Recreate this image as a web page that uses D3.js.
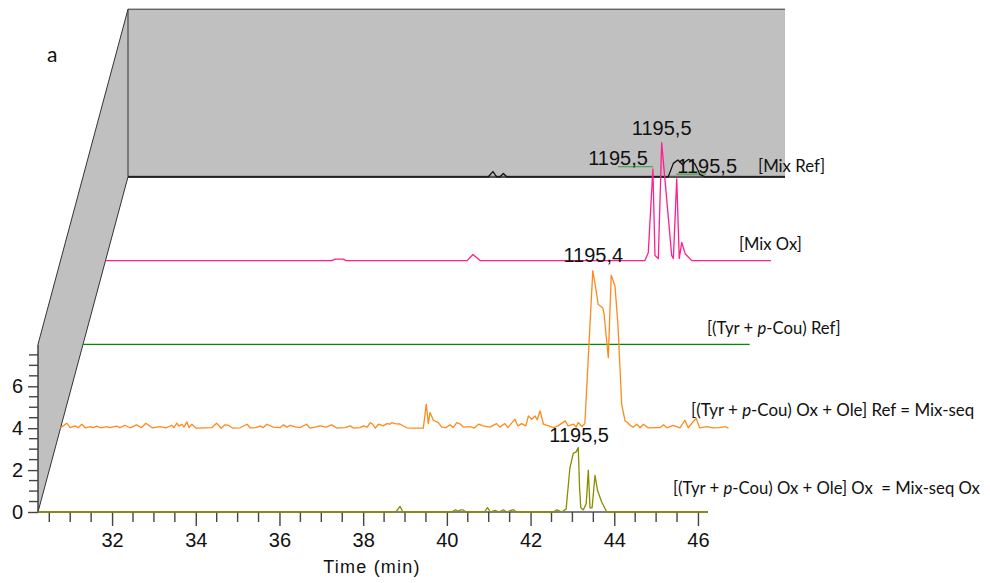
<!DOCTYPE html>
<html><head><meta charset="utf-8">
<script src="https://cdn.jsdelivr.net/npm/d3@7"></script>
<style>body{margin:0;background:#fff}svg{display:block}</style>
</head><body>
<svg id="c" width="990" height="583"></svg>
<script>
// ---------- DATA ----------
const timeDomain = [30.23, 46.24];
const valueDomain = [0, 8];
const xMajorTicks = [32, 34, 36, 38, 40, 42, 44, 46];
const yMajorTicks = [0, 2, 4, 6];
const xTitle = "Time (min)";
const panelLetter = "a";

// series, front (depth 0) to back (depth 4): [time (min), value]
const mixSeqOx = [[30.23,0],[38.78,0],[38.88,0.27],[38.95,0],[40.12,0],[40.2,0.11],[40.27,0.03],[40.33,0.1],[40.39,0.1],[40.46,0],[40.9,0],[40.97,0.21],[41.04,0],[41.15,0.08],[41.25,0],[41.35,0.11],[41.43,0],[41.59,0.11],[41.66,0],[42.55,0],[42.63,0.1],[42.75,0],[42.85,0.15],[42.94,2.1],[43.02,2.8],[43.09,2.87],[43.14,3.08],[43.17,1.2],[43.2,0.2],[43.26,0.1],[43.33,0.4],[43.38,2.0],[43.42,0.2],[43.47,0.2],[43.54,1.75],[43.6,1.03],[43.7,0.48],[43.82,0],[46.24,0]];

const mixSeq = [[30.22,0],[30.38,0.24],[30.46,0.03],[30.58,0.11],[30.65,0.02],[30.74,0.19],[30.82,0.02],[30.94,0.08],[31.01,0.03],[31.1,0.1],[31.18,0.02],[31.34,0.08],[31.41,0.03],[31.57,0.1],[31.65,0.03],[31.77,0.14],[31.89,0.02],[32.05,0.16],[32.16,0.02],[32.27,0.24],[32.42,0.02],[32.61,0.08],[32.75,0.02],[32.89,0.14],[32.94,0.03],[33.01,0.24],[33.06,0.1],[33.13,0.19],[33.18,0.05],[33.25,0.3],[33.3,0.03],[33.37,0.19],[33.47,0],[33.68,0.02],[33.85,0.03],[33.96,0.24],[34.07,0],[34.16,0.16],[34.23,0.15],[34.35,0],[34.52,0.02],[34.69,0.19],[34.76,0.02],[34.9,0.03],[35.0,0.11],[35.07,0.02],[35.16,0.19],[35.31,0.05],[35.48,0.03],[35.56,0.16],[35.64,0.05],[35.72,0.14],[35.84,0.06],[35.95,0.03],[36.11,0.19],[36.19,0],[36.31,0.05],[36.43,0.11],[36.58,0.05],[36.71,0.16],[36.84,0],[37.03,0.03],[37.15,0.11],[37.24,0],[37.39,0.03],[37.47,0.11],[37.56,0.05],[37.63,0.27],[37.69,0.19],[37.75,0],[37.83,0.19],[37.94,0.11],[38.03,0.22],[38.1,0.19],[38.15,0.27],[38.22,0.22],[38.34,0.2],[38.5,0.02],[38.7,0],[38.9,0],[38.97,1.15],[39.02,0.22],[39.06,0.75],[39.14,0.38],[39.26,0.27],[39.34,0.05],[39.44,0.03],[39.54,0.16],[39.61,0.03],[39.7,0.27],[39.78,0.2],[39.86,0.05],[40.02,0.08],[40.11,0],[40.22,0.19],[40.33,0.11],[40.49,0.05],[40.65,0.22],[40.73,0.05],[40.85,0.22],[40.92,0.03],[41.09,0.43],[41.16,0.11],[41.25,0.22],[41.35,0.11],[41.41,0.59],[41.49,0.43],[41.57,0.59],[41.62,0.4],[41.69,0.83],[41.77,0.19],[41.89,0.11],[42.01,0.03],[42.12,0.11],[42.29,0.35],[42.36,0.11],[42.49,0.19],[42.55,0.05],[42.6,0.27],[42.69,0.08],[42.76,0.22],[42.95,7.52],[43.0,6.93],[43.08,5.9],[43.19,5.74],[43.22,5.43],[43.32,3.36],[43.39,7.3],[43.48,6.78],[43.55,4.94],[43.64,1.14],[43.72,0.35],[43.78,0.27],[43.84,0.14],[43.91,0.05],[44.0,0.19],[44.08,0.02],[44.16,0.19],[44.27,0.02],[44.44,0.03],[44.56,0.03],[44.64,0.16],[44.72,0.02],[44.87,0.13],[45.03,0.02],[45.15,0.38],[45.23,0.02],[45.42,0.48],[45.5,0.02],[45.67,0.08],[45.82,0.02],[45.97,0.03],[46.11,0.08],[46.19,0]];

const tyrCouRef = [[30.23,0],[46.16,0]];

const mixOx = [[30.23,0],[35.64,0],[35.72,0.07],[35.91,0.07],[35.98,0],[38.87,0],[39.01,0.29],[39.18,0],[43.12,0],[43.2,0.38],[43.31,4.37],[43.36,0.24],[43.44,0.1],[43.52,5.63],[43.76,0.24],[43.8,0.1],[43.88,3.9],[43.94,0.1],[44.0,0.87],[44.08,0.33],[44.24,0],[46.13,0]];

const mixRef = [[30.23,0],[38.84,0],[38.95,0.25],[39.04,0],[39.12,0],[39.2,0.16],[39.28,0],[43.14,0],[43.26,0.64],[43.37,0.8],[43.49,0.56],[43.54,0.71],[43.62,0.83],[43.7,0.76],[43.78,0.6],[43.9,0.1],[44.02,0],[45.93,0]];

const seriesData = [mixSeqOx, mixSeq, tyrCouRef, mixOx, mixRef];
const seriesColors = ["#8c8c00", "#ff8a1c", "#008a00", "#ff1f8e", "#111111"];
// label parts: [text, italic?]
const seriesLabels = [
  [["[(Tyr + ",0],["p",1],["-Cou) Ox + Ole] Ox  = Mix-seq Ox",0]],
  [["[(Tyr + ",0],["p",1],["-Cou) Ox + Ole] Ref = Mix-seq",0]],
  [["[(Tyr + ",0],["p",1],["-Cou) Ref]",0]],
  [["[Mix Ox]",0]],
  [["[Mix Ref]",0]]
];
// peak annotations: text, depth index, time, value (anchor = text baseline centre)
const peakNotes = [
  ["1195,5", 0, 43.16, 3.34],
  ["1195,4", 1, 42.96, 7.93],
  ["1195,5", 3, 43.52, 6.0],
  ["1195,5", 4, 41.94, 0.56],
  ["1195,5", 4, 44.07, 0.2]
];
// short green marker lines on the back plane: depth, t0, t1, value
const markerLines = [[4, 41.94, 42.78, 0.48],[4, 43.33, 44.04, 0.13]];
const wallEndTime = 45.93;

// ---------- LAYOUT ----------
const svg = d3.select("#c");
const x = d3.scaleLinear().domain(timeDomain).range([38, 708]);
const y = d3.scaleLinear().domain(valueDomain).range([512, 344.4]);
const depthDx = 22.5, depthDv = 4; // per depth step: px right, value units up
const depthDy = y(depthDv) - y(0);
const px = (t, d) => x(t) + d * depthDx;
const py = (v, d) => y(v) + d * depthDy;
const D = 4;
const labelPos = [[673, 494], [691, 416], [707, 334], [739, 250], [758, 172]];
const labelSizes = [16.7, 16.9, 16.7, 16.6, 16.8];

const wallFill = "#c0c0c0", edge = "#333";
const numFont = "Liberation Sans, Arial, sans-serif";
const lblFont = "Lato, 'Open Sans', sans-serif";

// left wall
svg.append("path")
  .attr("d", `M${px(timeDomain[0],0)},${py(8,0)} L${px(timeDomain[0],D)},${py(8,D)} L${px(timeDomain[0],D)},${py(0,D)} L${px(timeDomain[0],0)},${py(0,0)} Z`)
  .attr("fill", wallFill).attr("stroke", "none");
// back wall
svg.append("path")
  .attr("d", `M${px(timeDomain[0],D)},${py(8,D)} L${px(wallEndTime,D)},${py(8,D)} L${px(wallEndTime,D)},${py(0,D)} L${px(timeDomain[0],D)},${py(0,D)} Z`)
  .attr("fill", wallFill).attr("stroke", "none");
const edges = [
  [[timeDomain[0],8,0],[timeDomain[0],8,D]],
  [[timeDomain[0],0,0],[timeDomain[0],0,D]],
  [[timeDomain[0],8,D],[wallEndTime,8,D]],
  [[timeDomain[0],8,D],[timeDomain[0],0,D]]
];
edges.forEach(e => svg.append("line")
  .attr("x1", px(e[0][0], e[0][2])).attr("y1", py(e[0][1], e[0][2]))
  .attr("x2", px(e[1][0], e[1][2])).attr("y2", py(e[1][1], e[1][2]))
  .attr("stroke", edge).attr("stroke-width", 1));
// back wall floor edge
svg.append("line")
  .attr("x1", px(timeDomain[0], D)).attr("y1", py(0, D))
  .attr("x2", px(wallEndTime, D)).attr("y2", py(0, D))
  .attr("stroke", "#555").attr("stroke-width", 2.2);

// y axis
const yAxis = d3.axisLeft(y).tickValues(yMajorTicks).tickSize(10).tickPadding(4).tickFormat(d3.format("d"));
const gy = svg.append("g").attr("transform", `translate(${x(timeDomain[0])},0)`).call(yAxis);
gy.attr("font-size", null).attr("font-family", null);
gy.select(".domain").attr("stroke", edge).attr("stroke-width", 1.4).attr("d", `M0,${y(8)}V${y(0)}`);
gy.selectAll(".tick line").attr("stroke", "#444").attr("stroke-width", 1.4);
gy.selectAll(".tick text").attr("font-family", numFont).attr("font-size", 20).attr("fill", "#111").attr("dx", -1);
const yMinor = d3.range(0.5, 8, 0.5).filter(v => !yMajorTicks.includes(v));
svg.append("g").selectAll("line").data(yMinor).join("line")
  .attr("x1", x(timeDomain[0]) - 9).attr("x2", x(timeDomain[0]))
  .attr("y1", d => y(d)).attr("y2", d => y(d))
  .attr("stroke", "#444").attr("stroke-width", 1.4);

// x axis
const xAxis = d3.axisBottom(x).tickValues(xMajorTicks).tickSize(14).tickPadding(7).tickFormat(d3.format("d"));
const gx = svg.append("g").attr("transform", `translate(0,${y(0)})`).call(xAxis);
gx.attr("font-size", null).attr("font-family", null);
gx.select(".domain").attr("stroke", "#555").attr("stroke-width", 1.4).attr("d", `M${x(timeDomain[0])},0H${x(timeDomain[1])}`);
gx.selectAll(".tick line").attr("stroke", "#444").attr("stroke-width", 1.4);
gx.selectAll(".tick text").attr("font-family", numFont).attr("font-size", 20).attr("fill", "#111");
const xMinor = d3.range(30.5, 46.2, 0.5).filter(t => !xMajorTicks.includes(t));
svg.append("g").selectAll("line").data(xMinor).join("line")
  .attr("x1", d => x(d)).attr("x2", d => x(d))
  .attr("y1", y(0)).attr("y2", y(0) + 10)
  .attr("stroke", "#444").attr("stroke-width", 1.4);

// marker lines
markerLines.forEach(m => svg.append("line")
  .attr("x1", px(m[1], m[0])).attr("x2", px(m[2], m[0]))
  .attr("y1", py(m[3], m[0])).attr("y2", py(m[3], m[0]))
  .attr("stroke", "#3a9a3a").attr("stroke-width", 1.2));

// traces back to front
for (let d = seriesData.length - 1; d >= 0; d--) {
  const line = d3.line().x(p => px(p[0], d)).y(p => py(p[1], d));
  svg.append("path").datum(seriesData[d])
    .attr("d", line).attr("fill", "none")
    .attr("stroke", seriesColors[d]).attr("stroke-width", 1.3)
    .attr("stroke-linejoin", "round");
}

// series labels
seriesLabels.forEach((parts, i) => {
  const t = svg.append("text").attr("x", labelPos[i][0]).attr("y", labelPos[i][1])
    .attr("font-family", lblFont).attr("font-size", labelSizes[i])
    .attr("fill", "#111").style("white-space", "pre");
  parts.forEach(p => t.append("tspan").text(p[0]).attr("font-style", p[1] ? "italic" : "normal"));
});

// peak notes
peakNotes.forEach(n => svg.append("text")
  .attr("x", px(n[2], n[1])).attr("y", py(n[3], n[1]))
  .attr("text-anchor", "middle")
  .attr("font-family", numFont).attr("font-size", 20)
  .attr("fill", "#111").text(n[0]));

// axis title and panel letter
svg.append("text").attr("x", 372).attr("y", 573).attr("text-anchor", "middle")
  .attr("font-family", numFont).attr("font-size", 18)
  .attr("letter-spacing", 1.2).attr("fill", "#111").text(xTitle);
svg.append("text").attr("x", 47).attr("y", 62)
  .attr("font-family", lblFont).attr("font-size", 21)
  .attr("fill", "#111").text(panelLetter);
</script>
</body></html>
